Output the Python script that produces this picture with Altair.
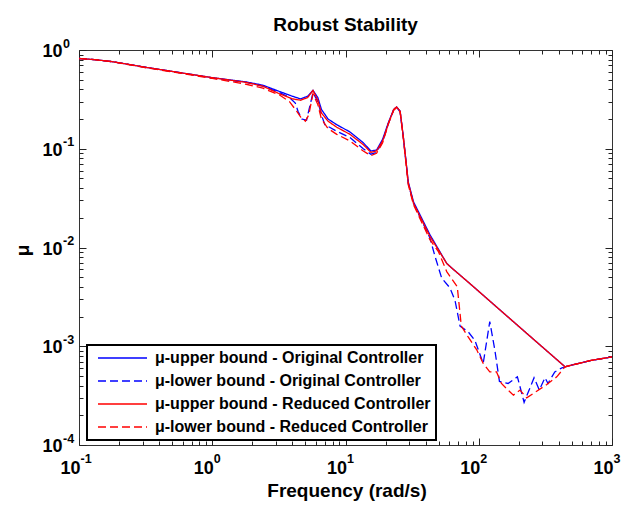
import altair as alt
import pandas as pd

FONT = "Liberation Sans"

series_labels = [
    "μ-upper bound - Original Controller",
    "μ-lower bound - Original Controller",
    "μ-upper bound - Reduced Controller",
    "μ-lower bound - Reduced Controller",
]
series_colors = ["#0000ff", "#0000ff", "#ff0000", "#ff0000"]
series_dashes = [[1, 0], [8, 4], [1, 0], [8, 4]]

# mu upper bound - original controller
bu_f = [0.1, 0.13, 0.18, 0.32, 0.57, 1.0, 1.8, 2.4, 3.2, 4.0, 4.6, 5.2, 5.7, 6.2, 6.6,
        7.4, 8.6, 10.8, 13.6, 15.5, 17.1, 19, 21, 23, 24.2, 25.7, 27.2, 29.6, 32.4, 43,
        57.5, 62.7, 86, 136, 243, 444, 700, 1000]
bu_m = [0.82, 0.80, 0.76, 0.667, 0.59, 0.525, 0.475, 0.44, 0.38, 0.34, 0.32, 0.34, 0.39, 0.33, 0.25,
        0.20, 0.175, 0.148, 0.115, 0.095, 0.097, 0.125, 0.185, 0.25, 0.265, 0.24, 0.13, 0.046, 0.029, 0.0135,
        0.0069, 0.0062, 0.0043, 0.0025, 0.00126, 0.00062, 0.00072, 0.00078]

# mu lower bound - original controller
bl_f = [0.1, 0.13, 0.18, 0.32, 0.57, 1.0, 1.8, 2.4, 3.2, 3.8, 4.2, 4.4, 4.7, 5.1, 5.4,
        5.7, 6.2, 6.6, 7.0, 7.6, 8.6, 10.8, 13.6, 15.5, 17.1, 19, 21, 23, 24.2, 25.7,
        27.2, 29.6, 32.4, 43, 47, 52.7, 60.8, 66.4, 72.4, 83.3, 93.5, 108, 121, 132, 143,
        166, 195, 219, 260, 285, 314, 331, 372, 417, 444, 700, 1000]
bl_m = [0.82, 0.80, 0.76, 0.665, 0.59, 0.52, 0.47, 0.43, 0.37, 0.33, 0.29, 0.24, 0.20, 0.195, 0.27,
        0.37, 0.30, 0.22, 0.175, 0.165, 0.15, 0.13, 0.10, 0.088, 0.092, 0.118, 0.18, 0.248, 0.262, 0.238,
        0.128, 0.044, 0.028, 0.0125, 0.0081, 0.0049, 0.0039, 0.0029, 0.0016, 0.0014, 0.00115, 0.00067, 0.00178, 0.00092, 0.00044,
        0.00042, 0.00049, 0.00027, 0.00048, 0.00036, 0.00048, 0.00042, 0.00055, 0.0006, 0.00062, 0.00072, 0.00078]

# mu upper bound - reduced controller
ru_f = [0.1, 0.13, 0.18, 0.32, 0.57, 1.0, 1.8, 2.4, 3.2, 4.0, 4.6, 5.2, 5.7, 6.2, 6.6,
        7.4, 8.6, 10.8, 13.6, 15.5, 17.1, 19, 21, 23, 24.2, 25.7, 27.2, 29.6, 32.4, 43,
        57.5, 62.7, 86, 136, 243, 444, 700, 1000]
ru_m = [0.82, 0.80, 0.76, 0.667, 0.59, 0.525, 0.47, 0.43, 0.36, 0.32, 0.31, 0.33, 0.39, 0.31, 0.23,
        0.19, 0.165, 0.14, 0.11, 0.092, 0.095, 0.12, 0.18, 0.25, 0.265, 0.24, 0.13, 0.045, 0.028, 0.013,
        0.0069, 0.0062, 0.0043, 0.0025, 0.00126, 0.00062, 0.00072, 0.00078]

# mu lower bound - reduced controller
rl_f = [0.1, 0.13, 0.18, 0.32, 0.57, 1.0, 1.5, 1.8, 2.4, 3.2, 3.8, 4.3, 4.6, 5.0, 5.3,
        5.7, 6.2, 6.6, 7.4, 8.6, 10.8, 13.6, 15.5, 17.1, 19, 21, 23, 24.2, 25.7, 27.2,
        29.6, 32.4, 43, 49.8, 57.5, 69, 74, 83, 96.6, 108, 121, 136, 148, 166, 182,
        204, 229, 272, 324, 385, 444, 700, 1000]
rl_m = [0.82, 0.80, 0.76, 0.66, 0.585, 0.515, 0.47, 0.45, 0.41, 0.35, 0.30, 0.24, 0.21, 0.19, 0.22,
        0.36, 0.28, 0.2, 0.16, 0.14, 0.12, 0.095, 0.085, 0.09, 0.115, 0.18, 0.245, 0.26, 0.235, 0.125,
        0.043, 0.027, 0.012, 0.0091, 0.0057, 0.0040, 0.0016, 0.00125, 0.00092, 0.00067, 0.00055, 0.00055, 0.00042, 0.00036, 0.00032,
        0.00036, 0.00030, 0.00035, 0.00041, 0.00049, 0.00062, 0.00072, 0.00078]

x_major = [0.1, 1, 10, 100, 1000]
y_major = [0.0001, 0.001, 0.01, 0.1, 1]
x_minor = [d * k for d in [0.1, 1, 10, 100] for k in range(2, 10)]
y_minor = [d * k for d in [0.0001, 0.001, 0.01, 0.1] for k in range(2, 10)]

rows = []
for lab, fs, ms in [(series_labels[0], bu_f, bu_m), (series_labels[1], bl_f, bl_m),
                    (series_labels[3], rl_f, rl_m), (series_labels[2], ru_f, ru_m)]:
    for i, (f, m) in enumerate(zip(fs, ms)):
        rows.append({"series": lab, "f": f, "mu": m, "i": i})
df = pd.DataFrame(rows)

xscale = alt.Scale(type="log", domain=[0.1, 1000], nice=False)
yscale = alt.Scale(type="log", domain=[0.0001, 1], nice=False)

TICK = "#222222"
exp_expr = "'' + round(log(datum.value) / LN10)"

common = dict(domain=False, grid=False, labelFlush=False, labelOverlap=False,
              tickColor=TICK, tickWidth=1)

leg = alt.Legend(title=None, orient="none", legendX=8, legendY=295,
                 symbolType="stroke", symbolSize=2401, symbolStrokeWidth=1.3,
                 symbolOffset=5, clipHeight=16,
                 labelFont=FONT, labelFontSize=16, labelFontWeight="bold", labelColor="#000",
                 labelOffset=7, labelLimit=600, strokeColor="#000", fillColor="#fff",
                 padding=5, rowPadding=7, zindex=2)

lines = alt.Chart(df).mark_line(strokeWidth=1.3, clip=True).encode(
    x=alt.X("f:Q", scale=xscale, axis=alt.Axis(
        orient="bottom", values=x_major, offset=-7, tickSize=7,
        labelExpr="'10'", labelFont=FONT, labelFontSize=18, labelFontWeight="bold",
        labelColor="#000", labelAlign="right", labelBaseline="alphabetic",
        labelPadding=28, labelOffset=1,
        title="Frequency (rad/s)", titleFont=FONT, titleFontSize=19, titleFontWeight="bold",
        titleColor="#000", titleBaseline="alphabetic", titleY=58, titleX=267.5, **common)),
    y=alt.Y("mu:Q", scale=yscale, axis=alt.Axis(
        orient="left", values=y_major, offset=-7, tickSize=7,
        labelExpr="'10'", labelFont=FONT, labelFontSize=18, labelFontWeight="bold",
        labelColor="#000", labelAlign="right", labelBaseline="alphabetic",
        labelPadding=17, labelOffset=6.5,
        title="μ", titleFont=FONT, titleFontSize=19, titleFontWeight="bold", titleColor="#000",
        titleAngle=270, titleBaseline="middle", titleAlign="center", titleX=-64, titleY=200, **common)),
    color=alt.Color("series:N", scale=alt.Scale(domain=series_labels, range=series_colors), legend=leg),
    strokeDash=alt.StrokeDash("series:N", scale=alt.Scale(domain=series_labels, range=series_dashes), legend=leg),
    order=alt.Order("i:Q"),
)


def guide_layer(xaxis, yaxis):
    return alt.Chart(df).mark_point(opacity=0, size=1).encode(
        x=alt.X("f:Q", scale=xscale, axis=xaxis),
        y=alt.Y("mu:Q", scale=yscale, axis=yaxis),
    )


exp_layer = guide_layer(
    alt.Axis(orient="bottom", values=x_major, offset=0, ticks=False, tickSize=0,
             labelExpr=exp_expr, labelFont=FONT, labelFontSize=12.5, labelFontWeight="bold",
             labelColor="#000", labelAlign="left", labelBaseline="alphabetic",
             labelPadding=17, labelOffset=1, title=None, **common),
    alt.Axis(orient="left", values=y_major, offset=0, ticks=False, tickSize=0,
             labelExpr=exp_expr, labelFont=FONT, labelFontSize=12.5, labelFontWeight="bold",
             labelColor="#000", labelAlign="left", labelBaseline="alphabetic",
             labelPadding=16.5, labelOffset=-3, title=None, **common),
)

minor_bl = guide_layer(
    alt.Axis(orient="bottom", values=x_minor, offset=-4, tickSize=4, labels=False, title=None, **common),
    alt.Axis(orient="left", values=y_minor, offset=-4, tickSize=4, labels=False, title=None, **common),
)
major_tr = guide_layer(
    alt.Axis(orient="top", values=x_major, offset=-7, tickSize=7, labels=False, title=None, **common),
    alt.Axis(orient="right", values=y_major, offset=-7, tickSize=7, labels=False, title=None, **common),
)
minor_tr = guide_layer(
    alt.Axis(orient="top", values=x_minor, offset=-4, tickSize=4, labels=False, title=None, **common),
    alt.Axis(orient="right", values=y_minor, offset=-4, tickSize=4, labels=False, title=None, **common),
)

chart = alt.layer(lines, exp_layer, minor_bl, major_tr, minor_tr).resolve_axis(
    x="independent", y="independent"
).properties(
    width=533, height=395,
    title=alt.TitleParams(text="Robust Stability", font=FONT, fontSize=19, fontWeight="bold",
                          color="#000", frame="group", anchor="middle", offset=-13,
                          baseline="alphabetic"),
    autosize=alt.AutoSizeParams(type="none"),
    padding={"left": 71, "top": 42, "right": 10, "bottom": 59},
).configure_view(stroke="#333333", strokeWidth=1).configure_legend(strokeWidth=2)

chart.save("out.html", embed_options={"renderer": "svg", "actions": False})
